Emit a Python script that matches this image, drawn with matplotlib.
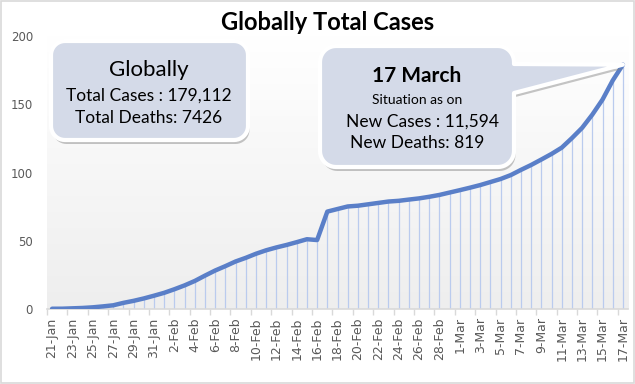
import numpy as np
import pandas as pd
import matplotlib as mpl
mpl.use("Agg")
import matplotlib.pyplot as plt
from matplotlib.patches import Polygon, Rectangle
from matplotlib.transforms import Affine2D
from matplotlib.ticker import FixedLocator

# ---------------------------------------------------------------------------
# data (cumulative cases, thousands)
# ---------------------------------------------------------------------------
dates = pd.date_range("2020-01-21", "2020-03-17", freq="D")
date_labels = [f"{d.day}-{d.strftime('%b')}" for d in dates]

cases_k = [
    0.28, 0.31, 0.58, 0.85, 1.32, 2.01, 2.80, 4.59, 6.07, 7.82, 9.83,
    11.95, 14.56, 17.39, 20.63, 24.55, 28.28, 31.48, 34.89, 37.56, 40.55,
    43.10, 45.17, 47.00, 49.05, 51.20, 50.60, 71.43, 73.33, 75.20, 75.75,
    76.77, 77.79, 78.81, 79.33, 80.24, 81.11, 82.29, 83.65, 85.40,
    87.14, 88.95, 90.87, 93.09, 95.32, 98.19, 102.0, 105.6, 109.6, 113.7,
    118.3, 125.3, 132.8, 142.5, 153.5, 167.5, 179.1,
]
y_ticks = [0, 50, 100, 150, 200]

title = "Globally Total Cases"
box_left = ["Globally", "Total Cases : 179,112", "Total Deaths: 7426"]
box_right = ["17 March", "Situation as on", "New Cases : 11,594", "New Deaths: 819"]

# ---------------------------------------------------------------------------
# style
# ---------------------------------------------------------------------------
plt.rcParams["font.family"] = ["Lato", "DejaVu Sans"]
LINE_COLOR = "#5A7FC8"
DROP_COLOR = "#BACBEE"
TICK_COLOR = "#595959"
AXIS_COLOR = "#D9D9D9"
BOX_FILL = "#D4DAE8"

W, H = 635, 384
fig = plt.figure(figsize=(W / 100, H / 100), dpi=100)
ax = fig.add_axes([0.074, 0.195, 0.915, 0.711])

x = np.arange(len(cases_k))
y = np.array(cases_k)

# plot-area gradient: white at top -> light gray at bottom
cmap = mpl.colors.LinearSegmentedColormap.from_list("bg", ["#EEEEEE", "#FFFFFF"])
ax.imshow(np.linspace(1.0, 0.0, 256).reshape(-1, 1), extent=[0, 1, 0, 1],
          transform=ax.transAxes, cmap=cmap, aspect="auto", zorder=0,
          vmin=0, vmax=1)

# drop lines
ax.vlines(x, 0, y, color=DROP_COLOR, linewidth=0.9, zorder=2)

# main line
ax.plot(x, y, color=LINE_COLOR, linewidth=3.2, solid_joinstyle="round",
        solid_capstyle="round", zorder=3)

ax.set_xlim(-0.5, len(x) - 0.5)
ax.set_ylim(0, 200)

ax.set_xticks(x[::2])
ax.set_xticklabels(date_labels[::2], rotation=90, fontsize=9, color=TICK_COLOR,
                   family=["DejaVu Sans"])
ax.xaxis.set_minor_locator(FixedLocator(np.arange(-0.5, len(x), 2)))
ax.tick_params(axis="x", which="major", length=0, pad=6)
ax.tick_params(axis="x", which="minor", length=4, color=AXIS_COLOR, width=1)

ax.set_yticks(y_ticks)
ax.set_yticklabels([str(v) for v in y_ticks], fontsize=8.5, color=TICK_COLOR,
                   family=["DejaVu Sans"])
ax.tick_params(axis="y", length=0, pad=10)

for s in ["top", "right", "left"]:
    ax.spines[s].set_visible(False)
ax.spines["bottom"].set_color(AXIS_COLOR)
ax.spines["bottom"].set_linewidth(1.2)

# ---------------------------------------------------------------------------
# helpers: pixel (top-left origin) -> figure
# ---------------------------------------------------------------------------
px_trans = Affine2D().scale(1 / W, -1 / H).translate(0, 1) + fig.transFigure


def fx(px):
    return px / W


def fy(py):
    return 1 - py / H


def box_outline(x0, y0, x1, y1, r, wedge=None):
    """Rounded rectangle outline in pixel coords, optional pointer on right edge."""
    def arc(cx, cy, a0, a1):
        t = np.radians(np.linspace(a0, a1, 12))
        return list(zip(cx + r * np.cos(t), cy + r * np.sin(t)))

    pts = [(x0 + r, y0), (x1 - r, y0)]
    pts += arc(x1 - r, y0 + r, -90, 0)
    if wedge is not None:
        wy0, wy1, tip = wedge
        pts += [(x1, wy0), tip, (x1, wy1)]
    pts += arc(x1 - r, y1 - r, 0, 90)
    pts += arc(x0 + r, y1 - r, 90, 180)
    pts += arc(x0 + r, y0 + r, 180, 270)
    return np.array(pts)


def draw_box(pts):
    shadow = Polygon(pts + np.array([1.5, 4.0]), closed=True, transform=px_trans,
                     facecolor="#808080", edgecolor="none", alpha=0.45, zorder=5)
    body = Polygon(pts, closed=True, transform=px_trans, facecolor=BOX_FILL,
                   edgecolor="white", linewidth=3, joinstyle="round", zorder=6)
    fig.patches.extend([shadow, body])


# title
fig.text(fx(328), fy(23), title, ha="center", va="center", fontsize=17,
         fontweight="bold", color="black")

# left box
draw_box(box_outline(51, 41, 248, 140, 14))
cx = fx(149)
fig.text(cx, fy(70), box_left[0], ha="center", va="center", fontsize=16, zorder=10)
fig.text(cx, fy(96), box_left[1], ha="center", va="center", fontsize=12.5, zorder=10)
fig.text(cx, fy(118), box_left[2], ha="center", va="center", fontsize=12.5, zorder=10)

# right callout box, pointer to the last data point
tip_disp = ax.transData.transform((x[-1], y[-1]))
tip_px = px_trans.inverted().transform(tip_disp)
draw_box(box_outline(320, 46, 514, 167, 16, wedge=(64, 93, tuple(tip_px))))

fig.text(fx(417), fy(76), box_right[0], ha="center", va="center", fontsize=15,
         fontweight="bold", zorder=10)
fig.text(fx(417), fy(100), box_right[1], ha="center", va="center", fontsize=10,
         zorder=10)
fig.text(fx(423), fy(122), box_right[2], ha="center", va="center", fontsize=12.5,
         zorder=10)
fig.text(fx(417), fy(143), box_right[3], ha="center", va="center", fontsize=12.5,
         zorder=10)

# figure border
fig.patches.append(Rectangle((0.001, 0.002), 0.997, 0.996, transform=fig.transFigure,
                             facecolor="none", edgecolor=AXIS_COLOR, linewidth=1.2,
                             zorder=20))

fig.savefig("out.png", dpi=100)
plt.close(fig)
